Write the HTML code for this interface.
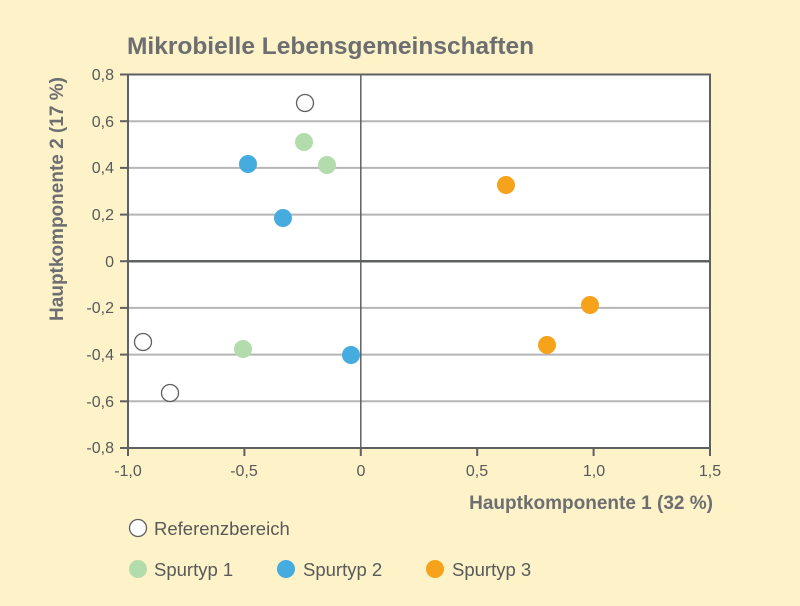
<!DOCTYPE html>
<html><head><meta charset="utf-8"><style>
body{margin:0;background:#fdf2c8;}
svg{display:block;font-family:"Liberation Sans",sans-serif;}
</style></head><body>
<svg width="800" height="606" viewBox="0 0 800 606">
<rect width="800" height="606" fill="#fdf2c8"/>
<text x="127" y="54" font-size="24.5" font-weight="bold" fill="#6d6e71">Mikrobielle Lebensgemeinschaften</text>
<rect x="128" y="74.5" width="582" height="373.5" fill="#fff"/>
<g stroke="#b5b5b5" stroke-width="2">
<line x1="128" x2="710" y1="121.2" y2="121.2"/><line x1="128" x2="710" y1="167.9" y2="167.9"/>
<line x1="128" x2="710" y1="214.6" y2="214.6"/><line x1="128" x2="710" y1="307.9" y2="307.9"/>
<line x1="128" x2="710" y1="354.6" y2="354.6"/><line x1="128" x2="710" y1="401.3" y2="401.3"/>
</g>
<g stroke="#5f6062" stroke-width="2" fill="none">
<line x1="128" x2="710" y1="261.2" y2="261.2" stroke-width="2.5"/>
<line x1="360.8" x2="360.8" y1="74.5" y2="448" stroke-width="1.5"/>
<polyline points="128,74.5 710,74.5 710,448 128,448 128,74.5"/>
<line x1="120" x2="128" y1="74.5" y2="74.5"/><line x1="120" x2="128" y1="121.2" y2="121.2"/>
<line x1="120" x2="128" y1="167.9" y2="167.9"/><line x1="120" x2="128" y1="214.6" y2="214.6"/>
<line x1="120" x2="128" y1="261.2" y2="261.2"/><line x1="120" x2="128" y1="307.9" y2="307.9"/>
<line x1="120" x2="128" y1="354.6" y2="354.6"/><line x1="120" x2="128" y1="401.3" y2="401.3"/>
<line x1="120" x2="128" y1="448" y2="448"/>
<line x1="128" x2="128" y1="448" y2="456"/><line x1="244.4" x2="244.4" y1="448" y2="456"/>
<line x1="360.8" x2="360.8" y1="448" y2="456"/><line x1="477.2" x2="477.2" y1="448" y2="456"/>
<line x1="593.6" x2="593.6" y1="448" y2="456"/><line x1="710" x2="710" y1="448" y2="456"/>
</g>
<g font-size="16" fill="#58595b" text-anchor="end">
<text x="114" y="80">0,8</text><text x="114" y="127">0,6</text><text x="114" y="173">0,4</text>
<text x="114" y="220">0,2</text><text x="114" y="267">0</text><text x="114" y="313">-0,2</text>
<text x="114" y="360">-0,4</text><text x="114" y="407">-0,6</text><text x="114" y="453">-0,8</text>
</g>
<g font-size="16" fill="#58595b" text-anchor="middle">
<text x="128" y="476">-1,0</text><text x="244" y="476">-0,5</text><text x="361" y="476">0</text>
<text x="477" y="476">0,5</text><text x="594" y="476">1,0</text><text x="710" y="476">1,5</text>
</g>
<text x="713" y="509" font-size="19" font-weight="bold" fill="#6d6e71" text-anchor="end">Hauptkomponente 1 (32 %)</text>
<text transform="translate(63,199) rotate(-90)" font-size="19" font-weight="bold" fill="#6d6e71" text-anchor="middle">Hauptkomponente 2 (17 %)</text>
<g stroke="#5f6062" stroke-width="1.3" fill="#fff">
<circle cx="305" cy="103" r="8.5"/><circle cx="143" cy="342" r="8.5"/><circle cx="170" cy="393" r="8.5"/>
</g>
<g fill="#b3dcac">
<circle cx="304" cy="142" r="9"/><circle cx="327" cy="165" r="9"/><circle cx="243" cy="349" r="9"/>
</g>
<g fill="#46abdf">
<circle cx="248" cy="164" r="9"/><circle cx="283" cy="218" r="9"/><circle cx="351" cy="355" r="9"/>
</g>
<g fill="#f7a21b">
<circle cx="506" cy="185" r="9"/><circle cx="590" cy="305" r="9"/><circle cx="547" cy="345" r="9"/>
</g>
<circle cx="138" cy="528" r="8.5" fill="#fff" stroke="#5f6062" stroke-width="1.3"/>
<circle cx="138" cy="569" r="9" fill="#b3dcac"/>
<circle cx="286" cy="569" r="9" fill="#46abdf"/>
<circle cx="435" cy="569" r="9" fill="#f7a21b"/>
<g font-size="18.5" fill="#58595b">
<text x="154" y="535">Referenzbereich</text>
<text x="154" y="576">Spurtyp 1</text>
<text x="303" y="576">Spurtyp 2</text>
<text x="452" y="576">Spurtyp 3</text>
</g>
</svg>
</body></html>
